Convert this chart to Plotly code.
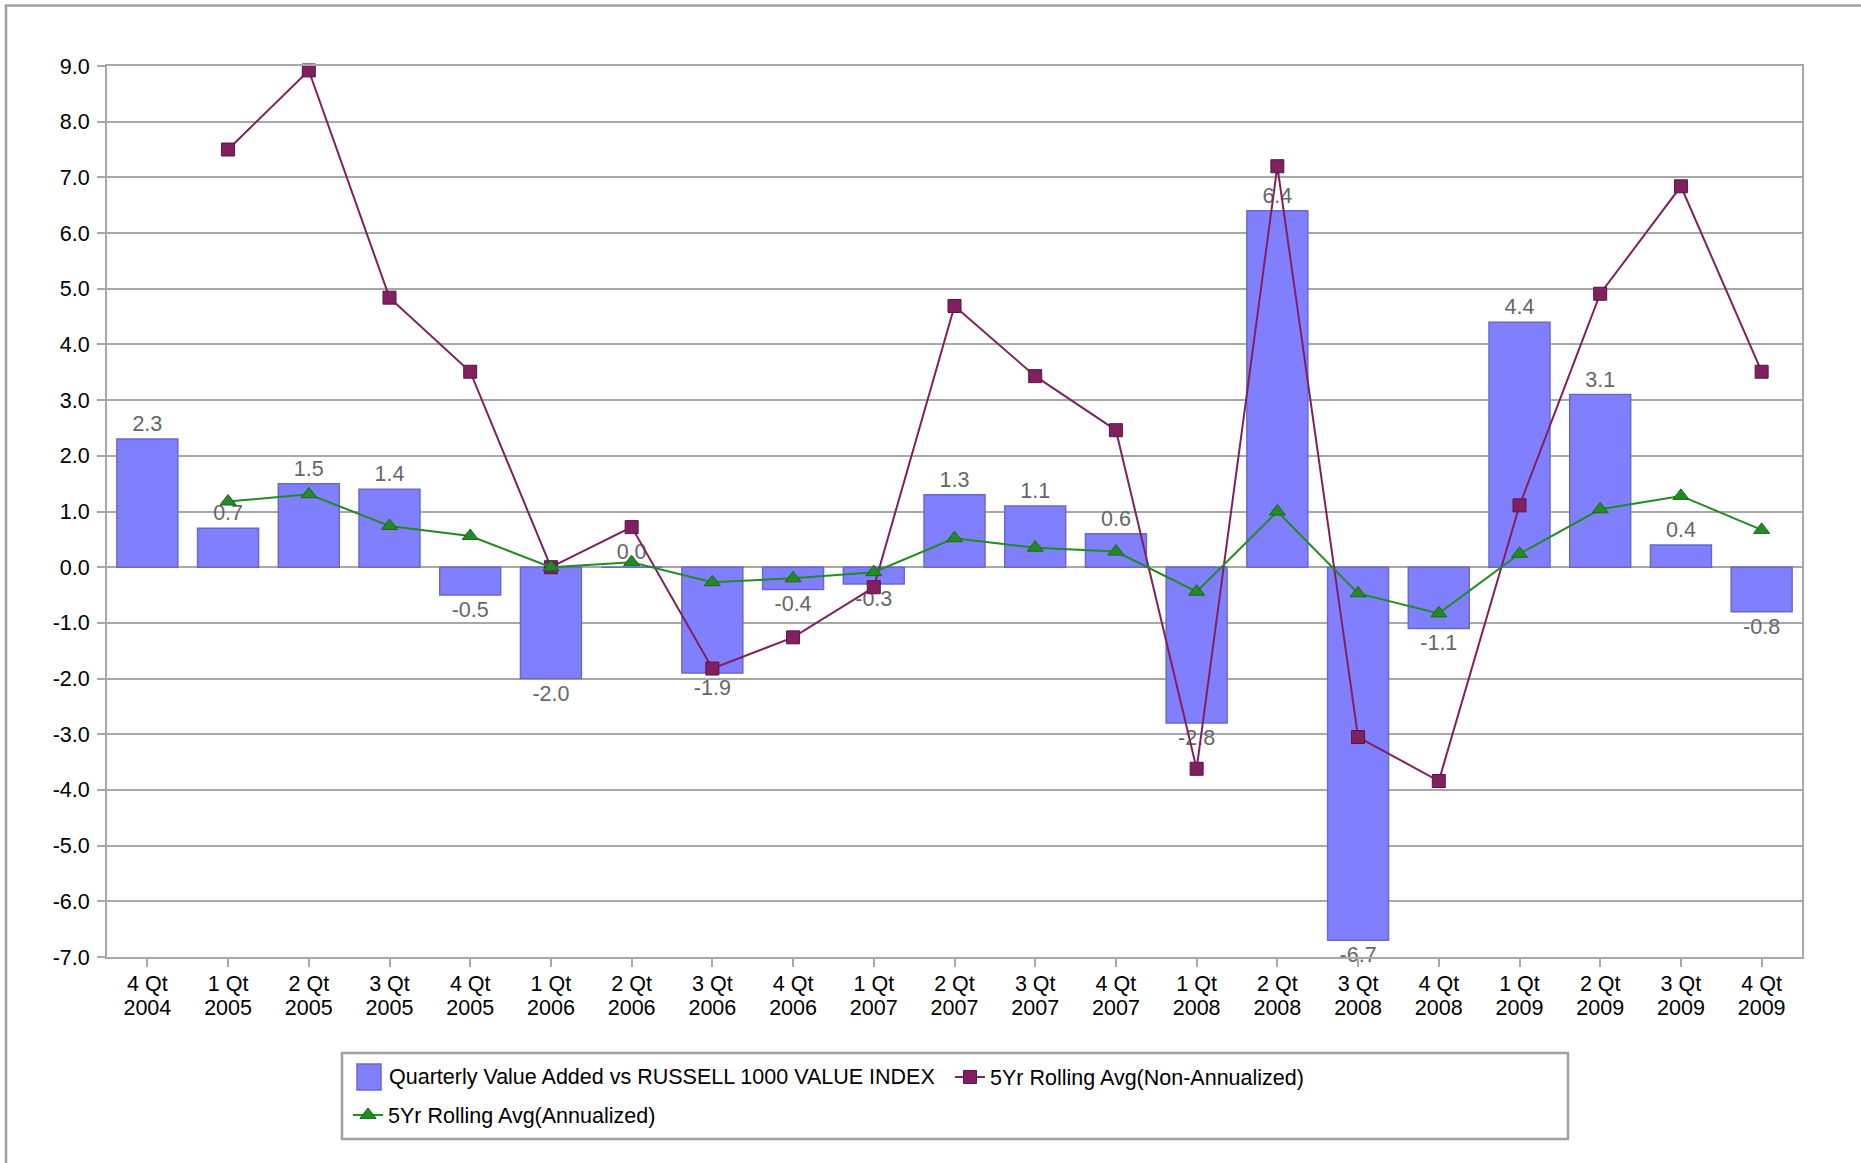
import plotly.graph_objects as go

# Quarter and year parts of each category label
quarter_names = ["4 Qt", "1 Qt", "2 Qt", "3 Qt", "4 Qt",
                 "1 Qt", "2 Qt", "3 Qt", "4 Qt", "1 Qt",
                 "2 Qt", "3 Qt", "4 Qt", "1 Qt", "2 Qt",
                 "3 Qt", "4 Qt", "1 Qt", "2 Qt", "3 Qt", "4 Qt"]
quarter_years = ["2004", "2005", "2005", "2005", "2005",
                 "2006", "2006", "2006", "2006", "2007",
                 "2007", "2007", "2007", "2008", "2008",
                 "2008", "2008", "2009", "2009", "2009", "2009"]

# Quarterly value added vs RUSSELL 1000 VALUE INDEX
value_added = [2.3, 0.7, 1.5, 1.4, -0.5, -2.0, 0.0, -1.9, -0.4, -0.3,
               1.3, 1.1, 0.6, -2.8, 6.4, -6.7, -1.1, 4.4, 3.1, 0.4, -0.8]

# 5-year rolling average, non-annualized
rolling_non_ann = [None, 7.50, 8.92, 4.84, 3.51, 0.00, 0.72, -1.82, -1.26, -0.36,
                   4.69, 3.43, 2.46, -3.62, 7.20, -3.05, -3.84, 1.11, 4.91, 6.84, 3.51]

# 5-year rolling average, annualized
rolling_ann = [None, 1.18, 1.31, 0.74, 0.56, 0.00, 0.09, -0.27, -0.20, -0.09,
               0.52, 0.35, 0.28, -0.44, 1.00, -0.47, -0.83, 0.24, 1.04, 1.28, 0.67]

y_ticks = list(range(-7, 10))
y_tick_text = [f"{v:.1f}" for v in y_ticks]
bar_labels = [f"{v:.1f}" for v in value_added]
pos = list(range(len(quarter_names)))

FONT = "Liberation Sans, Arial, sans-serif"
FS = 21.5
GRID = "#A8A8A8"
BAR_FILL = "#8080FF"
BAR_LINE = "#6868D0"

# Pixel geometry of the plotting area
W, H = 1861, 1163
L, R, T, B = 107, 59, 66, 206
pw, ph = W - L - R, H - T - B


def px_x(x):
    return (x - L) / pw


def px_y(y):
    return (H - B - y) / ph


fig = go.Figure()

fig.add_trace(go.Bar(
    x=pos, y=value_added,
    name="Quarterly Value Added vs RUSSELL 1000 VALUE INDEX",
    marker=dict(color=BAR_FILL, line=dict(color=BAR_LINE, width=1.5)),
    text=bar_labels, texttemplate="%{text}", textposition="outside",
    textfont=dict(family=FONT, size=FS, color="#666666"),
    constraintext="none", cliponaxis=False,
    showlegend=False,
))

fig.add_trace(go.Scatter(
    x=pos, y=rolling_non_ann, mode="lines+markers",
    name="5Yr Rolling Avg(Non-Annualized)",
    line=dict(color="#80205F", width=2),
    marker=dict(symbol="square", size=13, color="#80205F",
                line=dict(color="#5A1444", width=1)),
    cliponaxis=False, legend="legend2",
))

# drawn on the overlaid year axis (same positions as the quarter axis)
fig.add_trace(go.Scatter(
    x=pos, y=rolling_ann, mode="lines+markers",
    name="5Yr Rolling Avg(Annualized)",
    line=dict(color="#228B22", width=2),
    marker=dict(symbol="triangle-up", size=14, color="#228B22",
                line=dict(color="#1A661A", width=1)),
    cliponaxis=False, legend="legend3",
    xaxis="x2", yaxis="y",
))

legend_common = dict(
    orientation="h", xanchor="left", yanchor="middle",
    bgcolor="rgba(0,0,0,0)", borderwidth=0,
    font=dict(family=FONT, size=FS, color="#000000"),
    itemclick=False, itemdoubleclick=False,
)

shapes = [
    # outer frame
    dict(type="rect", xref="paper", yref="paper",
         x0=px_x(6), x1=px_x(1900), y0=px_y(5.5), y1=px_y(1200),
         line=dict(color="#A0A0A0", width=2.5), fillcolor="rgba(0,0,0,0)", layer="below"),
    # legend box
    dict(type="rect", xref="paper", yref="paper",
         x0=px_x(342), x1=px_x(1568), y0=px_y(1139), y1=px_y(1053),
         line=dict(color="#A0A0A0", width=2.5), fillcolor="rgba(0,0,0,0)", layer="below"),
    # bar series swatch
    dict(type="rect", xref="paper", yref="paper",
         x0=px_x(357), x1=px_x(381), y0=px_y(1090), y1=px_y(1064),
         line=dict(color=BAR_LINE, width=1.5), fillcolor=BAR_FILL, layer="above"),
]

annotations = [
    dict(text="Quarterly Value Added vs RUSSELL 1000 VALUE INDEX",
         xref="paper", yref="paper", x=px_x(387), y=px_y(1077),
         xanchor="left", yanchor="middle", showarrow=False,
         font=dict(family=FONT, size=FS, color="#000000")),
]

x_range = [-0.5, len(pos) - 0.5]

fig.update_layout(
    width=W, height=H,
    margin=dict(l=L, r=R, t=T, b=B, autoexpand=False),
    paper_bgcolor="white", plot_bgcolor="white",
    font=dict(family=FONT, size=FS, color="#000000"),
    bargap=0.245,
    showlegend=True,
    legend2=dict(x=px_x(950), y=px_y(1077), **legend_common),
    legend3=dict(x=px_x(348), y=px_y(1115), **legend_common),
    shapes=shapes,
    annotations=annotations,
    xaxis=dict(
        range=x_range, tickvals=pos, ticktext=quarter_names,
        showgrid=False, showline=True, linecolor=GRID, linewidth=2, mirror=True,
        zeroline=False,
        ticks="outside", ticklen=8, tickcolor=GRID, tickwidth=2,
        ticklabelstandoff=-2,
        tickfont=dict(family=FONT, size=FS, color="#000000"),
        fixedrange=True,
    ),
    # second row of category labels (years)
    xaxis2=dict(
        overlaying="x", anchor="y", side="bottom", matches="x",
        range=x_range, tickvals=pos, ticktext=quarter_years,
        showgrid=False, showline=False, zeroline=False, ticks="",
        ticklabelstandoff=35,
        tickfont=dict(family=FONT, size=FS, color="#000000"),
        fixedrange=True,
    ),
    yaxis=dict(
        range=[-7, 9], tickvals=y_ticks, ticktext=y_tick_text,
        showgrid=True, gridcolor=GRID, gridwidth=2,
        showline=True, linecolor=GRID, linewidth=2, mirror=True,
        zeroline=False,
        ticks="outside", ticklen=8, tickcolor=GRID, tickwidth=2,
        ticklabelstandoff=3,
        tickfont=dict(family=FONT, size=FS, color="#000000"),
        fixedrange=True,
    ),
)

fig.write_html("out.html")
